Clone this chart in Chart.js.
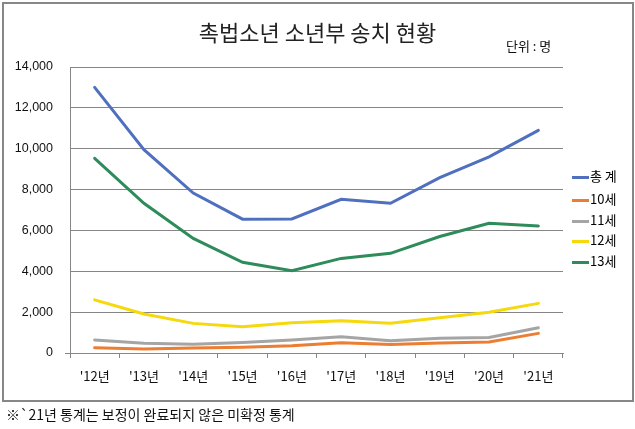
<!DOCTYPE html>
<html>
<head>
<meta charset="utf-8">
<script src="https://cdn.jsdelivr.net/npm/chart.js@4/dist/chart.umd.min.js"></script>
<style>
  body { margin: 0; background: #fff; font-family: "Noto Sans CJK KR", "Liberation Sans", sans-serif; }
  #wrap { position: relative; width: 635px; height: 429px; overflow: hidden; }
  #frame { position: absolute; left: 2px; top: 2px; width: 628px; height: 396px; border: 2px solid #878787; }
  #box { position: absolute; left: 0; top: 0; width: 635px; height: 429px; }
  .txt { position: absolute; color: #111; white-space: nowrap; }
  #title { left: 0; width: 635px; text-align: center; top: 15px; font-size: 22px; color: #222; }
  #unit { left: 506px; top: 36px; font-size: 13px; }
  #note { left: 6px; top: 404px; font-size: 14px; }
  .leg { position: absolute; left: 572px; font-size: 13px; height: 16px; line-height: 16px; }
  .leg i { display: inline-block; width: 17px; height: 3px; vertical-align: middle; margin-right: 1px; }
</style>
</head>
<body>
<div id="wrap">
  <div id="frame"></div>
  <div id="box"><canvas id="myChart"></canvas></div>
  <div class="txt" id="title">촉법소년 소년부 송치 현황</div>
  <div class="txt" id="unit">단위 : 명</div>
  <div id="legend"></div>
  <div class="txt" id="note">※`21년 통계는 보정이 완료되지 않은 미확정 통계</div>
</div>
<script>
// 연도별 촉법소년 소년부 송치 인원
const years = ["'12년", "'13년", "'14년", "'15년", "'16년", "'17년", "'18년", "'19년", "'20년", "'21년"];
const seriesNames = ["총 계", "10세", "11세", "12세", "13세"];
const total = [13000, 9950, 7830, 6550, 6560, 7520, 7330, 8580, 9600, 10900];
const age10 = [260, 200, 240, 280, 360, 500, 420, 490, 540, 960];
const age11 = [640, 480, 430, 510, 640, 800, 600, 720, 760, 1240];
const age12 = [2600, 1910, 1450, 1290, 1480, 1580, 1460, 1730, 1990, 2430];
const age13 = [9530, 7330, 5610, 4440, 4030, 4630, 4880, 5700, 6350, 6220];
const yTicks = [0, 2000, 4000, 6000, 8000, 10000, 12000, 14000];

const colors = ["#4f6fbf", "#ed7d31", "#a5a5a5", "#f5d90a", "#2e8b5a"];
const values = [total, age10, age11, age12, age13];

// legend (html)
const legendBox = document.getElementById("legend");
const legendTops = [168, 191, 212, 232, 253];
seriesNames.forEach((name, i) => {
  const d = document.createElement("div");
  d.className = "leg";
  d.style.top = legendTops[i] + "px";
  d.innerHTML = '<i style="background:' + colors[i] + '"></i>' + name;
  legendBox.appendChild(d);
});

const ctx = document.getElementById("myChart");
const axisGray = "#868686";

new Chart(ctx, {
  type: "line",
  data: {
    labels: years,
    datasets: seriesNames.map((name, i) => ({
      label: name,
      data: values[i],
      borderColor: colors[i],
      backgroundColor: colors[i],
      borderWidth: 3,
      pointRadius: 0,
      tension: 0,
      borderCapStyle: "round",
    })),
  },
  options: {
    responsive: true,
    maintainAspectRatio: false,
    animation: false,
    layout: { padding: { left: 0, top: 67, right: 72, bottom: 36 } },
    plugins: {
      legend: { display: false },
      tooltip: { enabled: false },
    },
    scales: {
      x: {
        offset: true,
        afterFit: (scale) => { scale.height = 40; },
        grid: {
          offset: true,
          drawOnChartArea: false,
          drawTicks: true,
          tickLength: 5,
          color: axisGray,
        },
        border: { display: true, color: axisGray, width: 1 },
        ticks: {
          padding: 10,
          color: "#111",
          font: { family: "'Noto Sans CJK KR', 'Liberation Sans'", size: 13 },
          maxRotation: 0,
        },
      },
      y: {
        min: 0,
        max: 14000,
        afterFit: (scale) => { scale.width = 70; },
        afterBuildTicks: (scale) => { scale.ticks = yTicks.map((v) => ({ value: v })); },
        grid: {
          color: axisGray,
          lineWidth: 1,
          drawTicks: true,
          tickLength: 5,
          tickColor: (c) => (c.tick && c.tick.value === 0 ? axisGray : "rgba(0,0,0,0)"),
        },
        border: { display: true, color: axisGray, width: 1 },
        ticks: {
          padding: 12,
          color: "#111",
          font: { family: "'Liberation Sans', Arial", size: 12.5 },
          callback: (v) => v.toLocaleString("en-US"),
        },
      },
    },
  },
});
</script>
</body>
</html>
